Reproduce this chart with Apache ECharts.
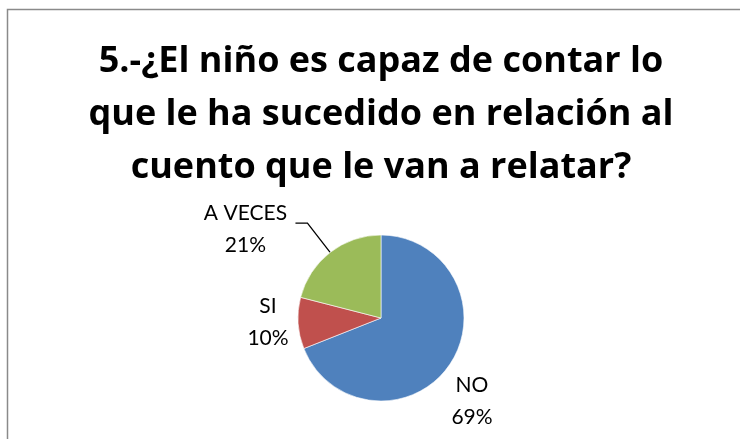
<!DOCTYPE html>
<html>
<head>
<meta charset="utf-8">
<script src="https://cdn.jsdelivr.net/npm/echarts@6/dist/echarts.min.js"></script>
<style>html,body{margin:0;padding:0;background:#fff}#c{width:740px;height:439px}</style>
</head>
<body>
<div id="c"></div>
<script>
const titleLines = ['5.-¿El niño es capaz de contar lo', 'que le ha sucedido en relación al', 'cuento que le van a relatar?'];
const categories = ['NO', 'SI', 'A VECES'];
const values = [69, 10, 21];
const colors = ['#4f81bd', '#c0504d', '#9bbb59'];

const chart = echarts.init(document.getElementById('c'));
const FONT = 'Lato';
chart.setOption({
  animation: false,
  backgroundColor: '#fff',
  graphic: [{
    type: 'rect', shape: {x: 7.5, y: 9.5, width: 800, height: 500},
    style: {fill: 'none', stroke: '#8a8a8a', lineWidth: 1.5}, silent: true
  }],
  title: {
    text: titleLines.join('\n'),
    left: 381, textAlign: 'center', top: 35, padding: 0,
    textStyle: {fontFamily: 'Open Sans', fontSize: 36, fontWeight: 'bold', color: '#000', lineHeight: 53}
  },
  series: [{
    type: 'pie',
    center: [381, 318],
    radius: 83,
    startAngle: 90,
    clockwise: true,
    avoidLabelOverlap: false,
    itemStyle: {borderColor: '#fff', borderWidth: 0.6},
    label: {
      show: true, position: 'outside',
      formatter: '{t|{b}}\n{t|{d}%}',
      color: '#000', fontFamily: FONT, fontSize: 21,
      distanceToLabelLine: 5,
      rich: {t: {fontFamily: FONT, fontSize: 21, color: '#000', lineHeight: 32, width: 90, align: 'center'}}
    },
    labelLine: {show: false, length: 37, length2: 12, lineStyle: {color: '#000', width: 1.3}},
    labelLayout: function (p) {
      if (p.dataIndex === 1) return {x: 268, y: 322, align: 'center', verticalAlign: 'middle'};
      if (p.dataIndex === 0) return {x: 472, y: 401, align: 'center', verticalAlign: 'middle'};
    },
    data: categories.map((c, i) => ({
      name: c, value: values[i], itemStyle: {color: colors[i]},
      labelLine: {show: i === 2},
      label: i === 2 ? {padding: [12, 0, 0, 0]} : {}
    }))
  }]
});
</script>
</body>
</html>
